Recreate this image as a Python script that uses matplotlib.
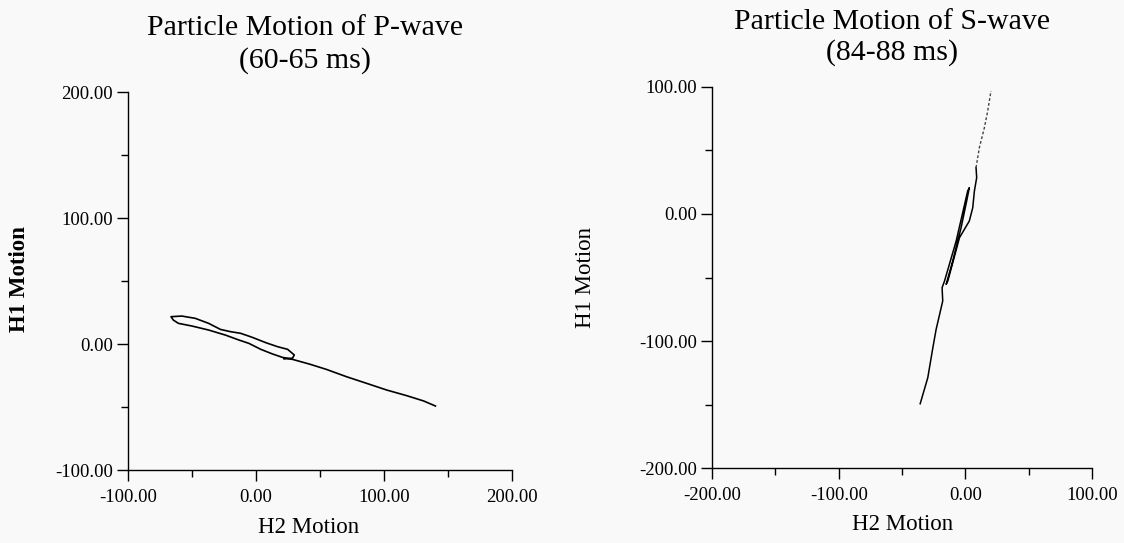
import numpy as np
import matplotlib.pyplot as plt
from matplotlib.ticker import MultipleLocator, FormatStrFormatter

# P-wave particle motion (60-65 ms)
p_h2 = [22.0, 28.5, 29.9, 24.7, 16.8, 7.6, -2.9, -12.0, -19.9, -27.8, -37.0, -47.5, -58.0,
        -66.4, -64.6, -60.6, -50.1, -37.0, -23.9, -13.4, -5.5, 3.7, 12.9, 20.7,
        28.6, 41.7, 54.9, 70.6, 86.4, 102.1, 117.8, 131.0, 140.2]
p_h1 = [-11.8, -11.2, -8.7, -4.2, -2.1, 1.1, 5.3, 8.5, 9.8, 11.6, 16.4, 20.4, 22.2,
        21.7, 19.0, 16.4, 14.3, 11.1, 7.1, 3.2, 0.5, -4.2, -7.9, -10.6,
        -12.2, -15.9, -20.1, -25.9, -31.2, -36.5, -41.0, -45.2, -49.2]

# S-wave particle motion (84-88 ms)
s_h2 = [-35.7, -29.7, -25.7, -23.1, -17.9, -18.4, -16.5, -7.3, 1.8, 3.1,
        1.0, -3.4, -10.0, -15.2, -13.9, -4.7, 3.1, 5.8, 7.1, 8.9, 8.4]
s_h1 = [-149.4, -128.9, -105.3, -90.8, -68.5, -58.0, -52.8, -21.3, 18.1, 20.7,
        10.2, -10.8, -37.0, -55.4, -52.8, -18.7, -5.5, 5.0, 18.1, 28.6, 36.5]
# faint upper tail
s_tail_h2 = [8.4, 11.0, 15.0, 17.6, 20.2]
s_tail_h1 = [36.5, 52.2, 68.0, 81.1, 96.9]

bg = "#f8f9f8"
plt.rcParams["font.family"] = ["Liberation Serif", "DejaVu Serif"]

fig = plt.figure(figsize=(11.24, 5.43), dpi=100, facecolor=bg)
ax1 = fig.add_axes([0.1139, 0.1344, 0.3416, 0.6961], facecolor=bg)
ax2 = fig.add_axes([0.6335, 0.1381, 0.3381, 0.7017], facecolor=bg)


def style(ax, xlim, ylim):
    ax.set_xlim(*xlim)
    ax.set_ylim(*ylim)
    for s in ["top", "right"]:
        ax.spines[s].set_visible(False)
    for s in ["left", "bottom"]:
        ax.spines[s].set_linewidth(1.0)
    ax.xaxis.set_major_locator(MultipleLocator(100))
    ax.xaxis.set_minor_locator(MultipleLocator(50))
    ax.yaxis.set_major_locator(MultipleLocator(100))
    ax.yaxis.set_minor_locator(MultipleLocator(50))
    ax.xaxis.set_major_formatter(FormatStrFormatter("%.2f"))
    ax.yaxis.set_major_formatter(FormatStrFormatter("%.2f"))
    ax.tick_params(which="major", direction="out", length=8, width=1.0,
                   labelsize=13.5, pad=3)
    ax.tick_params(which="minor", direction="out", length=5, width=1.0)
    ax.tick_params(axis="x", which="major", pad=6)
    ax.set_xlabel("H2 Motion", fontsize=16.5, labelpad=4)


style(ax1, (-100, 200), (-100, 200))
ax1.plot(p_h2, p_h1, color="black", lw=1.2)
ax1.set_ylabel("H1 Motion", fontsize=16.5, fontweight="bold")
ax1.yaxis.set_label_coords(-0.255, 0.505)
ax1.xaxis.set_label_coords(0.47, -0.125)

style(ax2, (-200, 100), (-200, 100))
ax2.plot(s_h2, s_h1, color="black", lw=1.1)
ax2.plot(s_tail_h2, s_tail_h1, color="#444444", lw=1.0, ls=(0, (2, 1.5)))
ax2.set_ylabel("H1 Motion", fontsize=16.5)
ax2.yaxis.set_label_coords(-0.305, 0.499)
ax2.xaxis.set_label_coords(0.5, -0.12)

fig.text(305 / 1124, 1 - 15 / 543, "Particle Motion of P-wave\n(60-65 ms)",
         ha="center", va="top", fontsize=21.5, linespacing=1.3)
fig.text(892 / 1124, 1 - 9 / 543, "Particle Motion of S-wave\n(84-88 ms)",
         ha="center", va="top", fontsize=21.5, linespacing=1.2)

fig.savefig("out.png", dpi=100, facecolor=bg)
